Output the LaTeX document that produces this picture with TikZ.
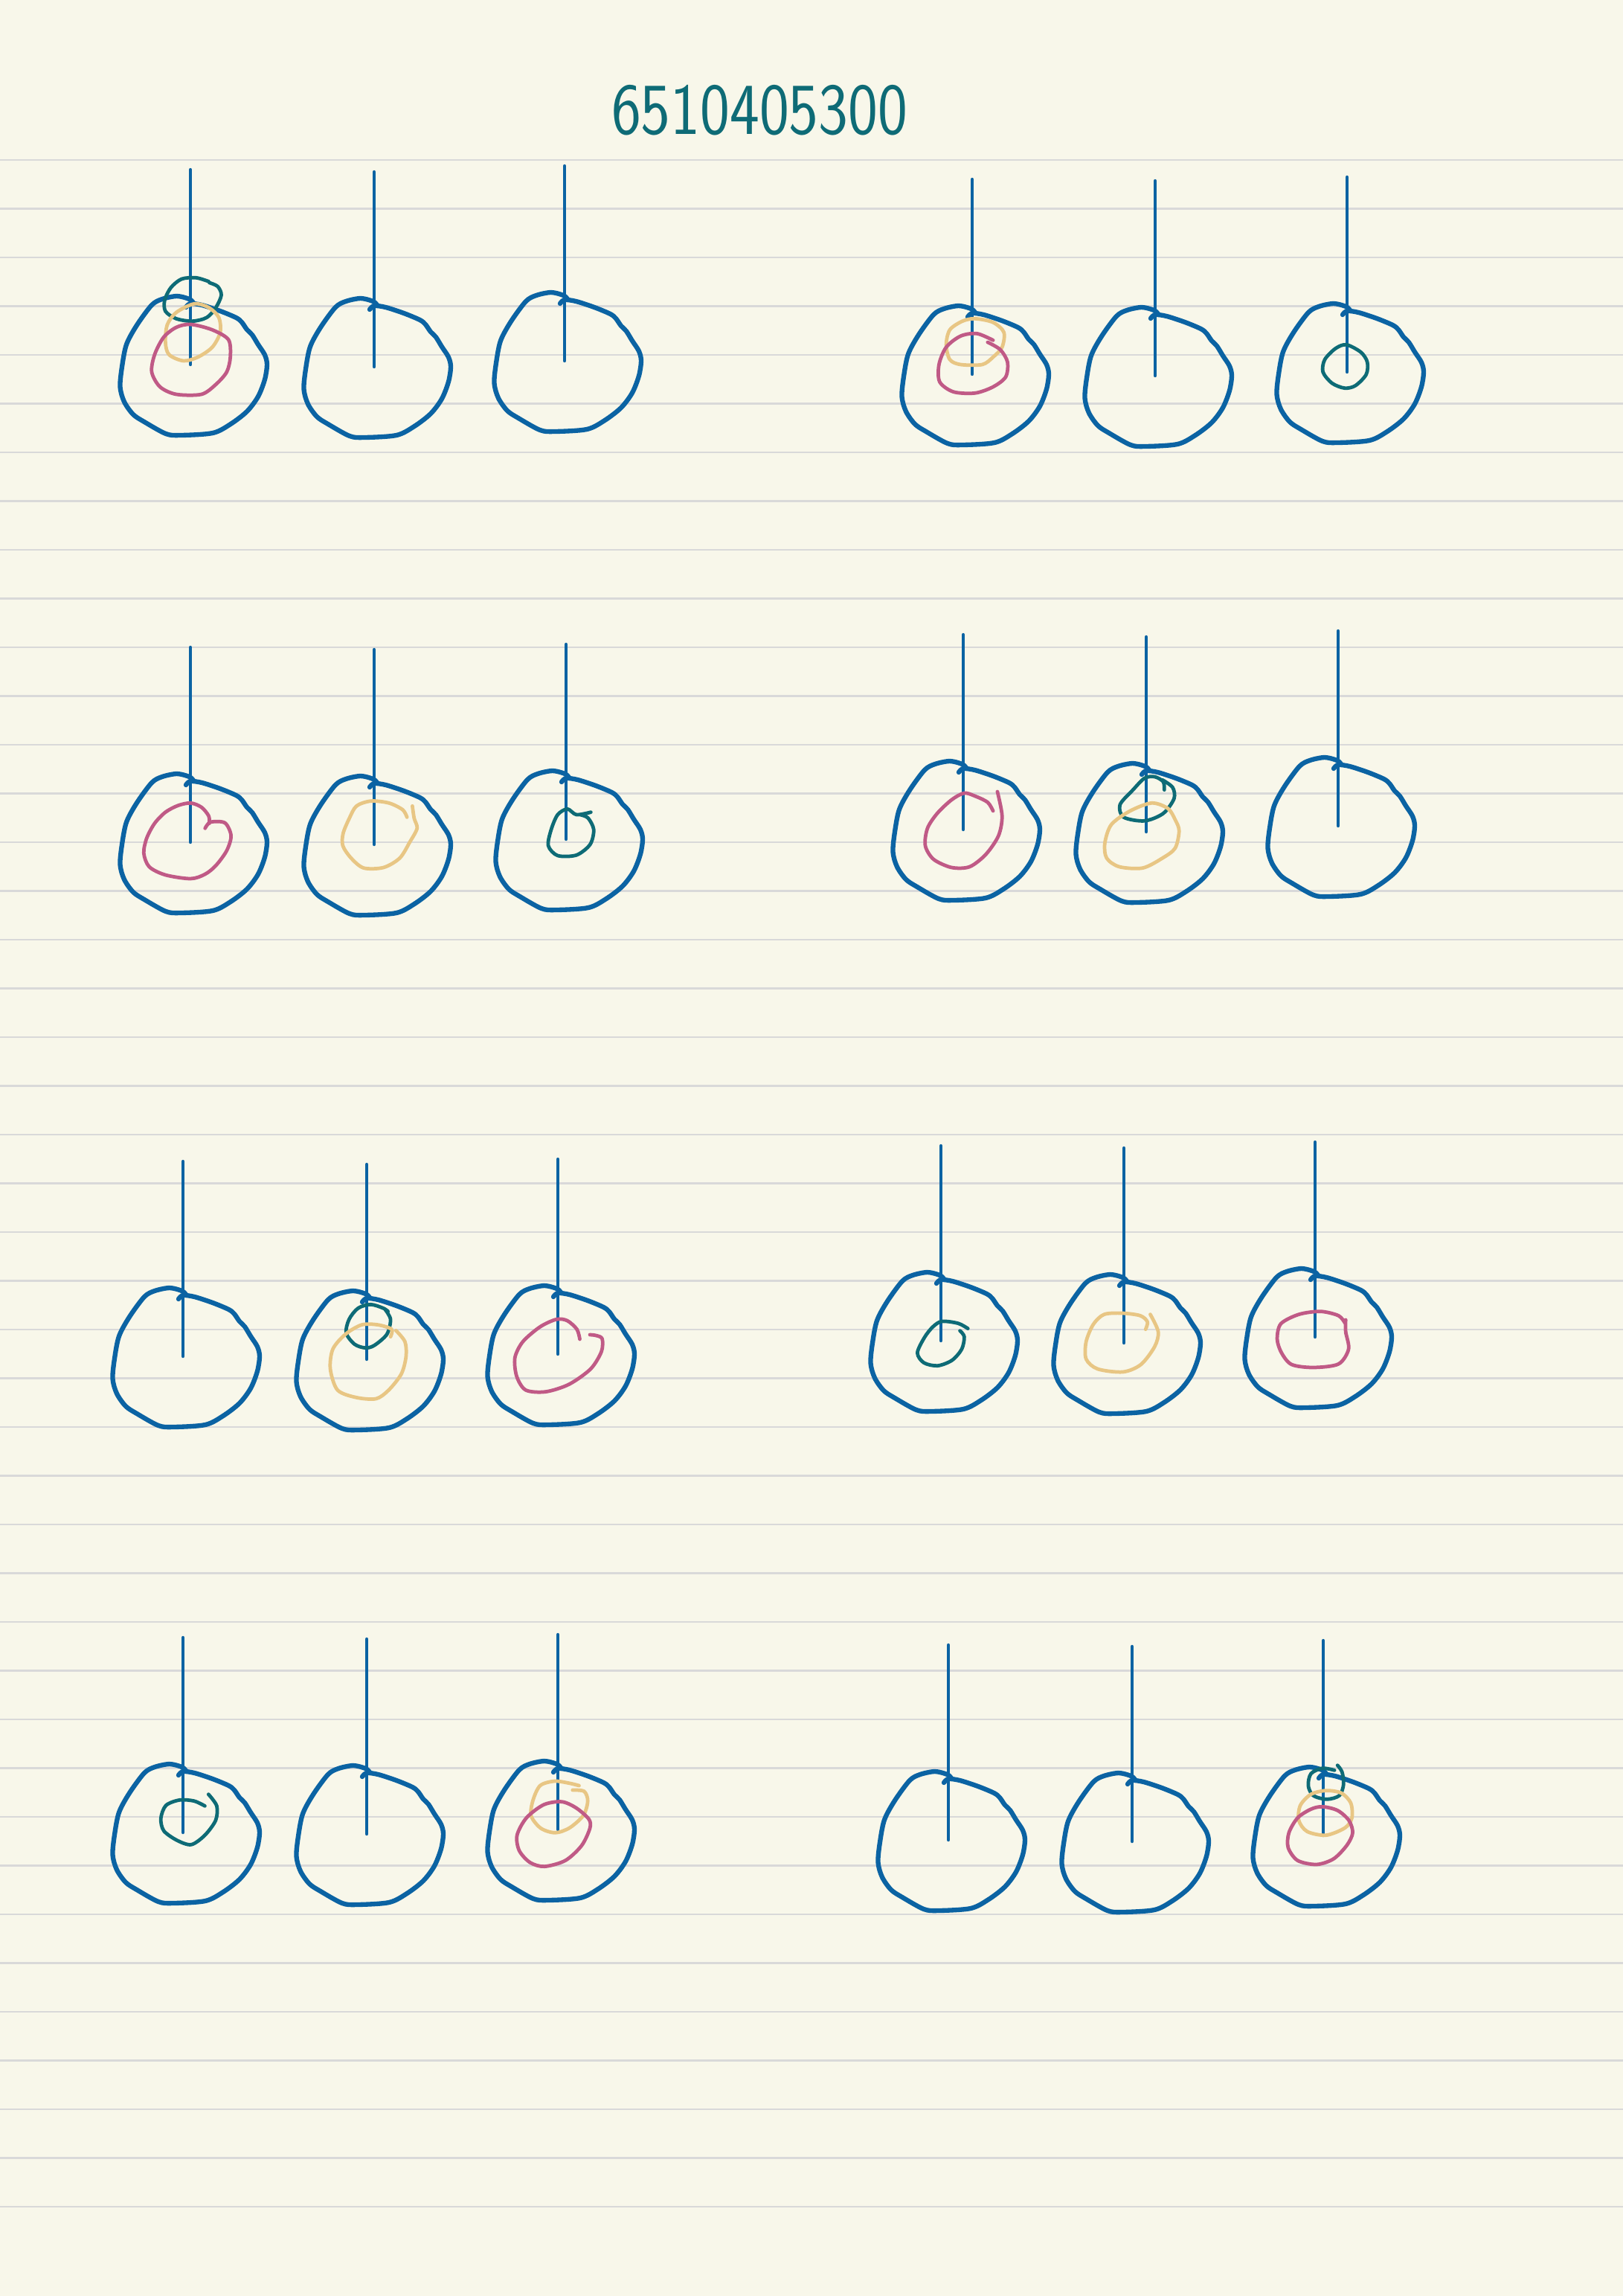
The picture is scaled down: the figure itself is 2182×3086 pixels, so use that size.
\documentclass[tikz,border=0pt]{standalone}
\usepackage{xcolor}
\usepackage{tikz}
\usetikzlibrary{positioning}

\definecolor{paper}{HTML}{F8F7EA}
\definecolor{ruleg}{HTML}{D9D9D9}
\definecolor{inkblue}{HTML}{0B63A3}
\definecolor{inkteal}{HTML}{0E6B76}
\definecolor{inkgold}{HTML}{E8C684}
\definecolor{inkpink}{HTML}{C05A86}

\begin{document}
\begin{tikzpicture}[
  x=0.01cm, y=-0.01cm,
  every node/.style={font=\sffamily},
  title/.style={text=inkteal, font=\sffamily\fontsize{28}{30}\selectfont, xscale=0.86},
  rule/.style={draw=ruleg, line width=0.6pt},
  wire/.style={draw=inkblue, line width=1.25pt, line cap=round},
  bead/.style={draw=inkblue, line width=1.8pt, line cap=round, line join=round},
  ring/.style={line width=1.35pt, line cap=round, line join=round},
  tealring/.style={ring, draw=inkteal},
  goldring/.style={ring, draw=inkgold},
  pinkring/.style={ring, draw=inkpink},
  zoomed/.style={shift={#1}, xscale=0.4847, yscale=0.3333},
  rod/.pic={
    \draw[wire] (0,-182) -- (0,80);
    \draw[bead] plot[smooth] coordinates {(-6,3) (0,-2) (15.5,0) (40,8) (61.5,17)
      (69,23) (76,33) (83,40) (91,53) (100,67) (103,80) (100,100) (91,123)
      (76,143) (54,160) (30,172) (-13.6,175) (-33,173) (-62,157) (-77,147)
      (-89,130) (-94.5,110) (-92,83) (-86,53) (-72,27) (-52,0) (-38,-8)
      (-18,-12) (-1.5,-8) (4,-3)};
  }
]
  \path[use as bounding box] (0,0) rectangle (2182,3086);
  \fill[paper] (0,0) rectangle (2182,3086);
  \foreach \i in {0,...,42}
    \draw[rule] (0,{215+65.5*\i}) -- (2182,{215+65.5*\i});

  \node[title] (code) at (1021,148) {6510405300};

  \foreach \x/\y in {256/410, 503/413, 759/405, 1307/423, 1553/425, 1811/420,
                     256/1052, 503/1055, 761/1048, 1295/1035, 1541/1038, 1799/1030,
                     246/1743, 493/1747, 750/1740, 1265/1722, 1511/1725, 1768/1717,
                     246/2383, 493/2385, 750/2379, 1275/2393, 1522/2395, 1779/2387}
    \pic at (\x,\y) {rod};

  % row 1
  \begin{scope}[zoomed={(140,200)}]
    \draw[tealring] plot[smooth] coordinates {(290,535) (255,520) (215,525) (185,560)
      (168,610) (170,655) (200,685) (245,695) (285,680) (310,640) (325,590) (315,555) (292,540)};
    \draw[goldring] plot[smooth cycle] coordinates {(250,625) (290,640) (318,680) (322,740)
      (300,800) (260,840) (220,855) (180,830) (170,780) (175,710) (200,660)};
    \draw[pinkring] plot[smooth cycle] coordinates {(240,708) (300,730) (345,770) (350,840)
      (340,900) (310,950) (270,990) (200,990) (155,960) (132,900) (140,830) (165,760) (200,720)};
  \end{scope}
  \begin{scope}[zoomed={(1180,220)}]
    \draw[goldring] plot[smooth cycle] coordinates {(270,625) (320,640) (350,680) (345,740)
      (320,780) (290,810) (230,810) (200,790) (190,730) (200,670) (235,635)};
    \draw[pinkring] plot[smooth] coordinates {(305,720) (340,750) (360,800) (355,860)
      (320,900) (270,925) (210,920) (172,880) (170,810) (190,740) (230,695) (275,685) (320,712)};
    \draw[tealring] plot[smooth cycle] coordinates {(1300,730) (1340,760) (1358,800) (1355,850)
      (1325,895) (1295,905) (1260,885) (1235,840) (1240,790) (1270,745)};
  \end{scope}

  % row 2
  \begin{scope}[zoomed={(140,850)}]
    \draw[pinkring] plot[smooth] coordinates {(280,790) (295,765) (335,768) (352,820)
      (340,880) (310,940) (280,975) (240,993) (170,978) (125,945) (110,890) (118,830)
      (140,770) (170,725) (205,698) (240,688) (270,705) (290,740) (292,770)};
    \draw[goldring] plot[smooth] coordinates {(840,745) (828,715) (790,688) (740,680)
      (700,700) (680,750) (663,810) (662,860) (685,910) (720,950) (775,948) (820,910)
      (848,845) (868,790) (860,750) (855,700)};
    \draw[tealring] plot[smooth] coordinates {(1350,725) (1310,735) (1285,712) (1258,735)
      (1240,795) (1232,860) (1258,900) (1310,898) (1348,855) (1358,795) (1342,748) (1320,735)};
  \end{scope}
  \begin{scope}[zoomed={(1180,840)}]
    \draw[pinkring] plot[smooth] coordinates {(320,750) (305,715) (270,690) (240,678)
      (205,705) (165,760) (138,820) (132,890) (155,945) (205,978) (255,975) (300,925)
      (335,850) (345,770) (332,672)};
    \draw[tealring] plot[smooth] coordinates {(795,665) (792,632) (768,612) (740,618)
      (708,665) (672,725) (682,775) (740,790) (792,760) (822,700) (818,655) (790,625)};
    \draw[goldring] plot[smooth cycle] coordinates {(760,718) (805,740) (825,785) (836,830)
      (825,900) (790,940) (735,980) (670,975) (635,940) (630,880) (648,805) (700,750)};
  \end{scope}

  % row 3
  \begin{scope}[zoomed={(130,1540)}]
    \draw[tealring] plot[smooth] coordinates {(808,668) (795,655) (760,640) (725,655)
      (700,700) (692,755) (715,800) (745,815) (770,805) (805,760) (815,700) (800,660)};
    \draw[goldring] plot[smooth] coordinates {(815,770) (818,740) (780,722) (735,722)
      (690,760) (655,820) (648,900) (668,985) (720,1015) (775,1020) (810,985) (845,920)
      (858,850) (855,790) (830,745)};
    \draw[pinkring] plot[smooth] coordinates {(1340,780) (1332,740) (1305,705) (1275,700)
      (1230,730) (1182,790) (1160,855) (1165,930) (1190,985) (1245,992) (1310,962)
      (1370,900) (1400,830) (1402,778) (1385,765) (1368,762)};
  \end{scope}
  \begin{scope}[zoomed={(1150,1520)}]
    \draw[tealring] plot[smooth] coordinates {(312,797) (285,776) (240,768) (215,790)
      (192,832) (172,895) (190,935) (228,947) (268,925) (295,880) (302,830) (290,806)};
    \draw[goldring] plot[smooth] coordinates {(805,800) (810,770) (790,745) (740,735)
      (690,740) (660,780) (640,850) (640,920) (672,960) (742,972) (792,942) (830,870)
      (840,810) (818,740)};
    \draw[pinkring] plot[smooth] coordinates {(1358,775) (1340,745) (1290,728) (1230,740)
      (1180,778) (1170,840) (1182,895) (1210,942) (1270,954) (1340,940) (1368,880)
      (1360,810) (1360,762)};
  \end{scope}

  % row 4
  \begin{scope}[zoomed={(130,2180)}]
    \draw[tealring] plot[smooth] coordinates {(300,742) (270,722) (230,718) (192,740)
      (178,792) (186,842) (222,880) (262,898) (300,860) (330,800) (333,742) (310,695)};
    \draw[goldring] plot[smooth] coordinates {(1338,660) (1310,650) (1270,642) (1230,660)
      (1210,720) (1205,782) (1232,832) (1272,850) (1312,830) (1350,780) (1362,722)
      (1352,683) (1320,678)};
    \draw[pinkring] plot[smooth cycle] coordinates {(1290,725) (1240,737) (1192,790)
      (1166,860) (1172,922) (1202,970) (1242,986) (1300,962) (1345,902) (1368,832)
      (1365,795) (1330,750)};
  \end{scope}
  \begin{scope}[shift={(1140,2180)}, xscale=0.5102, yscale=0.3333]
    \draw[tealring] plot[smooth] coordinates {(1290,578) (1302,605) (1306,655) (1295,700)
      (1262,715) (1226,700) (1213,660) (1220,612) (1250,590) (1282,598)};
    \draw[goldring] plot[smooth cycle] coordinates {(1260,680) (1300,690) (1325,730)
      (1328,790) (1310,830) (1260,860) (1210,845) (1188,800) (1192,740) (1220,695)};
    \draw[pinkring] plot[smooth cycle] coordinates {(1250,745) (1290,760) (1320,800)
      (1330,850) (1315,900) (1280,955) (1235,978) (1185,962) (1160,910) (1162,850)
      (1185,790) (1220,755)};
  \end{scope}
\end{tikzpicture}
\end{document}
